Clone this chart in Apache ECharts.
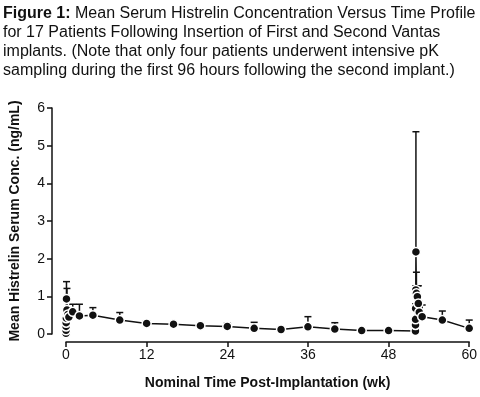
<!DOCTYPE html>
<html>
<head>
<meta charset="utf-8">
<script src="https://cdn.jsdelivr.net/npm/echarts@6/dist/echarts.min.js"></script>
<style>
  html, body { margin: 0; padding: 0; background: #fff; }
  #chart { width: 480px; height: 397px; }
</style>
</head>
<body>
<div id="chart"></div>
<script>
// nominal time (weeks); hourly samples after each implant sit just past 0 and 52
const timeWeeks = [0, 0.006, 0.012, 0.024, 0.048, 0.071, 0.143, 0.286, 0.429,
	1, 2, 4, 8, 12, 16, 20, 24, 28, 32, 36, 40, 44, 48,
	52, 52.006, 52.012, 52.024, 52.048, 52.071, 52.143, 52.286, 52.429, 52.571,
	53, 56, 60];
// mean serum concentration (ng/mL)
const meanConc = [0.02, 0.1, 0.2, 0.3, 0.42, 0.93, 0.64, 0.52, 0.45,
	0.59, 0.48, 0.50, 0.37, 0.28, 0.26, 0.22, 0.20, 0.15, 0.12, 0.19, 0.13, 0.09, 0.09,
	0.08, 0.24, 0.39, 0.68, 1.17, 2.18, 1.08, 0.99, 0.81, 0.58,
	0.46, 0.37, 0.15];
// mean + SD (top of error bar)
const upperSD = [0.05, 0.15, 0.26, 0.36, 0.5, 1.39, 1.21, 0.6, 0.5,
	0.79, 0.79, 0.70, 0.57, 0.32, 0.30, 0.27, 0.29, 0.31, 0.17, 0.46, 0.30, 0.12, 0.13,
	0.1, 0.3, 0.45, 0.8, 1.28, 5.37, 1.64, 1.28, 1.28, 0.83,
	0.77, 0.61, 0.37];
const xTicks = [0, 12, 24, 36, 48, 60];
const yTicks = [0, 1, 2, 3, 4, 5, 6];

const font = 'Liberation Sans, Arial, Helvetica, sans-serif';
const chart = echarts.init(document.getElementById('chart'), null, {renderer: 'canvas'});

const points = timeWeeks.map((t, k) => [t, meanConc[k]]);
const bars = timeWeeks.map((t, k) => [t, meanConc[k], upperSD[k]]);

const option = {
	backgroundColor: '#fff',
	animation: false,
	title: {
		text: '{b|Figure 1:} Mean Serum Histrelin Concentration Versus Time Profile\n' +
			'for 17 Patients Following Insertion of First and Second Vantas\n' +
			'implants. (Note that only four patients underwent intensive pK\n' +
			'sampling during the first 96 hours following the second implant.)',
		left: 3,
		top: 4,
		padding: 0,
		textStyle: {
			fontFamily: font,
			fontSize: 16,
			fontWeight: 'normal',
			color: '#111',
			lineHeight: 19,
			rich: {
				b: {fontFamily: font, fontSize: 16, fontWeight: 'bold', color: '#111', lineHeight: 19}
			}
		}
	},
	grid: {left: 66, right: 9, top: 108, bottom: 63, containLabel: false},
	xAxis: {
		type: 'value',
		min: 0,
		max: 60,
		interval: 12,
		offset: 8,
		name: 'Nominal Time Post-Implantation (wk)',
		nameLocation: 'middle',
		nameGap: 34,
		nameTextStyle: {fontFamily: font, fontSize: 14, fontWeight: 'bold', color: '#111'},
		axisLine: {show: true, onZero: false, lineStyle: {color: '#111', width: 1.5}},
		axisTick: {show: true, length: 5, inside: false, lineStyle: {color: '#111', width: 1.5}},
		axisLabel: {fontFamily: font, fontSize: 14, color: '#111', margin: 6,
			formatter: v => xTicks.indexOf(v) > -1 ? String(v) : ''},
		splitLine: {show: false}
	},
	yAxis: {
		type: 'value',
		min: 0,
		max: 6,
		interval: 1,
		offset: 14,
		name: 'Mean Histrelin Serum Conc. (ng/mL)',
		nameLocation: 'middle',
		nameGap: 30,
		nameTextStyle: {fontFamily: font, fontSize: 14, fontWeight: 'bold', color: '#111'},
		axisLine: {show: true, onZero: false, lineStyle: {color: '#111', width: 1.5}},
		axisTick: {show: true, length: 5, lineStyle: {color: '#111', width: 1.5}},
		axisLabel: {fontFamily: font, fontSize: 14, color: '#111', margin: 7,
			formatter: v => yTicks.indexOf(v) > -1 ? String(v) : ''},
		splitLine: {show: false}
	},
	series: [
		{
			type: 'custom',
			z: 1,
			data: bars,
			renderItem: function (params, api) {
				let x = api.value(0);
				let lo = api.coord([x, api.value(1)]);
				let hi = api.coord([x, api.value(2)]);
				let style = {stroke: '#111', lineWidth: 1.5};
				return {
					type: 'group',
					children: [
						{type: 'line', shape: {x1: lo[0], y1: lo[1], x2: hi[0], y2: hi[1]}, style: style},
						{type: 'line', shape: {x1: hi[0] - 3.5, y1: hi[1], x2: hi[0] + 3.5, y2: hi[1]}, style: style}
					]
				};
			}
		},
		{
			type: 'line',
			z: 2,
			data: points,
			symbol: 'circle',
			symbolSize: 9,
			lineStyle: {color: '#111', width: 1.5},
			itemStyle: {color: '#111', borderColor: '#fff', borderWidth: 1.5},
			emphasis: {disabled: true}
		}
	]
};
chart.setOption(option);
</script>
</body>
</html>
